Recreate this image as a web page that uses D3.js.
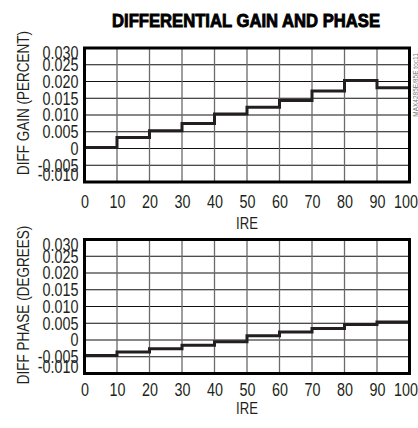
<!DOCTYPE html>
<html>
<head>
<meta charset="utf-8">
<script src="https://cdn.jsdelivr.net/npm/d3@7"></script>
<style>
  body { margin: 0; background: #fff; }
  svg { display: block; }
  .tick text { font-family: "Liberation Sans", Arial, sans-serif; font-size: 17.5px; fill: #231f20; }
  .lbl { font-family: "Liberation Sans", Arial, sans-serif; fill: #231f20; }
</style>
</head>
<body>
<svg id="chart" width="418" height="428"></svg>
<script>
"use strict";
// IRE step edges and the level held over each 10 IRE step
const ireSteps = [0, 10, 20, 30, 40, 50, 60, 70, 80, 90];
const gainValues = [0.0003, 0.0033, 0.0053, 0.0075, 0.0103, 0.0123, 0.0143, 0.0172, 0.0203, 0.0181];
const phaseValues = [-0.0046, -0.0036, -0.0026, -0.0016, -0.0005, 0.0013, 0.0024, 0.0034, 0.0046, 0.0054];
const xTicks = [0, 10, 20, 30, 40, 50, 60, 70, 80, 90, 100];
const yTicks = [0.030, 0.025, 0.020, 0.015, 0.010, 0.005, 0, -0.005, -0.010];
const yLabels = ["0.030", "0.025", "0.020", "0.015", "0.010", "0.005", "0", "-0.005", "-0.010"];

const svg = d3.select("#chart");
const INK = "#231f20";
const NARROW = 0.82; // squeeze Liberation Sans down to a narrow face

svg.append("text")
  .attr("class", "lbl")
  .attr("transform", `translate(246,26.5) scale(0.9,1)`)
  .attr("text-anchor", "middle")
  .style("font-size", "18.5px")
  .style("font-weight", "bold")
  .style("fill", "#000")
  .style("stroke", "#000").style("stroke-width", 0.9)
  .text("DIFFERENTIAL GAIN AND PHASE");

function drawPanel(opts) {
  const x = d3.scaleLinear().domain([0, 100]).range([84.5, 409.5]);
  const y = d3.scaleLinear().domain([-0.010, 0.030]).range([opts.bottom, opts.top]);
  const g = svg.append("g");

  // grid
  g.selectAll("line.h").data(yTicks).enter().append("line")
    .attr("x1", x(0)).attr("x2", x(100))
    .attr("y1", d => y(d)).attr("y2", d => y(d))
    .style("stroke", "#111").style("stroke-width", 1);
  g.selectAll("line.v").data(xTicks).enter().append("line")
    .attr("y1", y(0.030)).attr("y2", y(-0.010))
    .attr("x1", d => x(d)).attr("x2", d => x(d))
    .style("stroke", "#6a6a6a").style("stroke-width", 1.3);

  // step trace
  const pts = ireSteps.map((s, i) => [s, opts.values[i]]);
  pts.push([100, opts.values[opts.values.length - 1]]);
  g.append("path")
    .datum(pts)
    .attr("d", d3.line().x(d => x(d[0])).y(d => y(d[1])).curve(d3.curveStepAfter))
    .style("fill", "none").style("stroke", INK).style("stroke-width", 3);

  // frame
  g.append("rect")
    .attr("x", x(0)).attr("y", y(0.030))
    .attr("width", x(100) - x(0)).attr("height", y(-0.010) - y(0.030))
    .style("fill", "none").style("stroke", "#000").style("stroke-width", 3);

  // axes (labels only)
  const yAxis = d3.axisLeft(y).tickValues(yTicks).tickSize(0).tickPadding(6)
    .tickFormat((d, i) => yLabels[i]);
  const ya = g.append("g").attr("transform", `translate(${x(0)},0)`).call(yAxis);
  ya.select(".domain").remove();
  ya.selectAll(".tick text")
    .attr("x", -6 / NARROW)
    .attr("transform", `scale(${NARROW},1)`)
    .attr("dy", (d, i) => i === 0 ? "0.6em" : i === yTicks.length - 1 ? "-0.08em" : "0.34em");

  const xAxis = d3.axisBottom(x).tickValues(xTicks).tickSize(0).tickPadding(opts.xPad);
  const xa = g.append("g").attr("transform", `translate(0,${y(-0.010)})`).call(xAxis);
  xa.select(".domain").remove();
  xa.selectAll(".tick text")
    .attr("transform", `scale(${NARROW},1)`)
    .attr("dx", (d, i) => i === xTicks.length - 1 ? -4 / NARROW : 0);

  svg.append("text")
    .attr("class", "lbl")
    .attr("transform", `translate(${x(50)},${y(-0.010) + opts.ireOffset}) scale(${NARROW},1)`)
    .attr("text-anchor", "middle")
    .style("font-size", "16px")
    .text("IRE");

  svg.append("text")
    .attr("class", "lbl")
    .attr("transform", `translate(29,${opts.titleY}) rotate(-90) scale(${NARROW},1)`)
    .attr("text-anchor", "middle")
    .style("font-size", "16.5px")
    .text(opts.title);
}

drawPanel({ top: 48, bottom: 182, values: gainValues, title: "DIFF GAIN (PERCENT)", titleY: 103, ireOffset: 47, xPad: 14 });
drawPanel({ top: 239.5, bottom: 373.5, values: phaseValues, title: "DIFF PHASE (DEGREES)", titleY: 305, ireOffset: 40, xPad: 10 });

svg.append("text")
  .attr("transform", "translate(418,85) rotate(-90)")
  .attr("text-anchor", "middle")
  .style("font-family", "Liberation Sans, Arial, sans-serif")
  .style("font-size", "6.5px")
  .style("fill", "#777")
  .text("MAX4285E/85E toc11");
</script>
</body>
</html>
